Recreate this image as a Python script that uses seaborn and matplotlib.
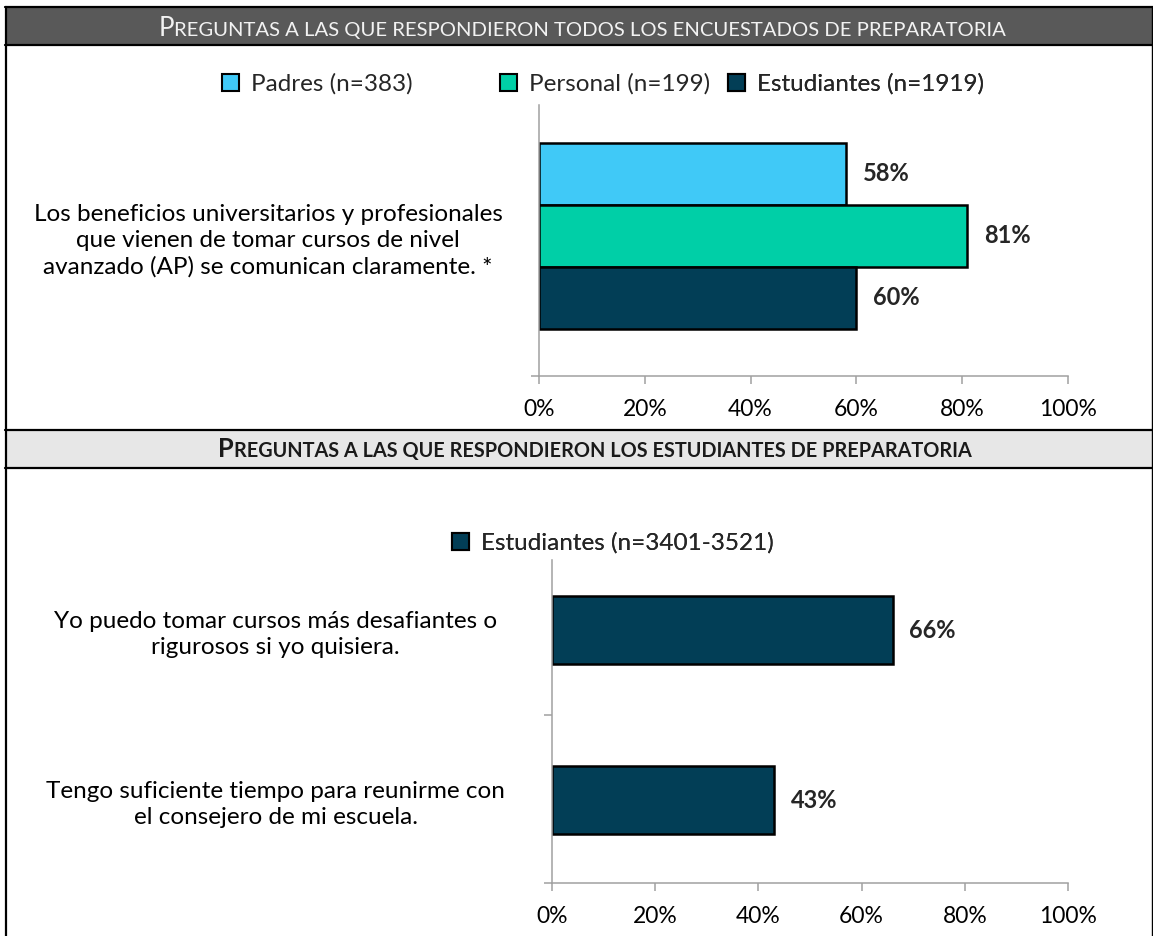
import matplotlib
matplotlib.use("Agg")
import matplotlib.pyplot as plt
import seaborn as sns
import pandas as pd
from matplotlib.patches import Rectangle, Patch
from matplotlib.ticker import FixedLocator, PercentFormatter

W, H = 1153, 936

# datos
titulo_1 = "Preguntas a las que respondieron todos los encuestados de preparatoria"
titulo_2 = "Preguntas a las que respondieron los estudiantes de preparatoria"

pregunta_1 = ("Los beneficios universitarios y profesionales\n"
              "que vienen de tomar cursos de nivel\n"
              "avanzado (AP) se comunican claramente. *")
grupos_1 = ["Padres (n=383)", "Personal (n=199)", "Estudiantes (n=1919)"]
valores_1 = [58, 81, 60]
colores_1 = ["#40C9F7", "#00CFA7", "#023E56"]

preguntas_2 = ["Yo puedo tomar cursos más desafiantes o\nrigurosos si yo quisiera.",
               "Tengo suficiente tiempo para reunirme con\nel consejero de mi escuela."]
grupo_2 = "Estudiantes (n=3401-3521)"
valores_2 = [66, 43]
color_2 = "#023E56"

ticks_x = [0, 20, 40, 60, 80, 100]

GRIS = "#A0A0A0"
FS_TICK = 16.5
FS_CAT = 17.5
FS_VAL = 17
FS_LEG = 17.5

sns.set_style("white")
plt.rcParams["font.family"] = ["Lato", "DejaVu Sans"]

fig = plt.figure(figsize=(W / 100, H / 100), dpi=100)
bg = fig.add_axes([0, 0, 1, 1], zorder=0)
bg.set_xlim(0, W)
bg.set_ylim(H, 0)
bg.axis("off")


def px_axes(x0, y0, x1, y1):
    return fig.add_axes([x0 / W, 1 - y1 / H, (x1 - x0) / W, (y1 - y0) / H], zorder=2)


# bandas de encabezado y bordes
def banda(y0, y1, color):
    bg.add_patch(Rectangle((5, y0), W - 5, y1 - y0, facecolor=color, edgecolor="none"))
    bg.plot([5, W], [y0, y0], color="black", lw=1.6)
    bg.plot([5, W], [y1, y1], color="black", lw=1.6)


banda(7, 45, "#595959")
banda(430, 468, "#E7E7E7")
bg.plot([6, 6], [7, H], color="black", lw=1.6)
bg.plot([1151.5, 1151.5], [7, H], color="black", lw=1.0)


def versalitas(text, xc, y_base, ancho, color, weight):
    # simula versalitas: mayusculas grandes, el resto en mayusculas pequenas
    r = fig.canvas.get_renderer()
    runs = []
    for ch in text:
        up = ch.isupper()
        if runs and runs[-1][1] == up:
            runs[-1][0] += ch
        else:
            runs.append([ch, up])
    size = 16
    arts = [bg.text(0, y_base, s.upper(), fontsize=size if up else size * 0.78,
                    color=color, fontweight=weight, va="baseline", ha="left")
            for s, up in runs]
    total = sum(t.get_window_extent(r).width for t in arts)
    size = size * ancho / total
    for t, (s, up) in zip(arts, runs):
        t.set_fontsize(size if up else size * 0.78)
    widths = [t.get_window_extent(r).width for t in arts]
    x = xc - sum(widths) / 2
    for t, w in zip(arts, widths):
        t.set_x(x)
        x += w


versalitas(titulo_1, 582, 36, 850, "#F2F2F2", "normal")
versalitas(titulo_2, 595, 457, 756, "#1A1A1A", "bold")


def estilo(ax, ylim, minor, pad_y):
    ax.set_xlim(0, 100)
    ax.set_ylim(*ylim)
    ax.patch.set_visible(False)
    sns.despine(ax=ax)
    for s in ("left", "bottom"):
        ax.spines[s].set_color(GRIS)
        ax.spines[s].set_linewidth(1.1)
    ax.xaxis.set_major_locator(FixedLocator(ticks_x))
    ax.xaxis.set_major_formatter(PercentFormatter(100, decimals=0))
    ax.tick_params(axis="x", bottom=True, length=5.8, width=1.1, color=GRIS,
                   direction="out", pad=11, labelsize=FS_TICK, labelcolor="black")
    ax.tick_params(axis="y", which="major", left=True, length=0, pad=pad_y,
                   labelsize=FS_CAT, labelcolor="black")
    ax.set_yticks(minor, minor=True)
    ax.tick_params(axis="y", which="minor", left=True, length=5.8, width=1.1,
                   color=GRIS, direction="out")
    for t in ax.get_yticklabels():
        t.set_ha("center")
        t.set_multialignment("center")
        t.set_linespacing(1.3)
    ax.set_xlabel("")
    ax.set_ylabel("")
    for c in ax.containers:
        ax.bar_label(c, fmt="{:.0f}%", padding=12, fontsize=FS_VAL, fontweight="bold")


def leyenda(ax, color, label, x_izq, y):
    h = [Patch(facecolor=color, edgecolor="black", linewidth=1.5, label=label)]
    leg = ax.legend(handles=h, loc="center left", bbox_to_anchor=(x_izq / W, 1 - y / H),
                    bbox_transform=fig.transFigure, frameon=False, fontsize=FS_LEG,
                    borderpad=0, borderaxespad=0, handlelength=0.7, handleheight=0.7,
                    handletextpad=0.5)
    ax.add_artist(leg)


# grafica 1
ax1 = px_axes(539, 105, 1068, 376)
df1 = pd.DataFrame({"pregunta": [pregunta_1] * 3, "grupo": grupos_1, "valor": valores_1})
sns.barplot(data=df1, x="valor", y="pregunta", hue="grupo", hue_order=grupos_1,
            palette=colores_1, orient="h", width=0.8, saturation=1,
            edgecolor="black", linewidth=1.8, legend=False, ax=ax1)
estilo(ax1, (0.602, -0.563), [0.602], 195)

for c, g, x0 in zip(colores_1, grupos_1, [222, 500, 728]):
    leyenda(ax1, c, g, x0, 84)

# grafica 2
ax2 = px_axes(552, 560, 1068, 883)
df2 = pd.DataFrame({"pregunta": preguntas_2, "grupo": [grupo_2] * 2, "valor": valores_2})
sns.barplot(data=df2, x="valor", y="pregunta", hue="grupo", palette=[color_2],
            orient="h", width=0.4, saturation=1, edgecolor="black", linewidth=1.8,
            legend=False, ax=ax2)
estilo(ax2, (1.488, -0.412), [0.5, 1.488], 199)

leyenda(ax2, color_2, grupo_2, 452, 543)

fig.savefig("out.png", dpi=100)
